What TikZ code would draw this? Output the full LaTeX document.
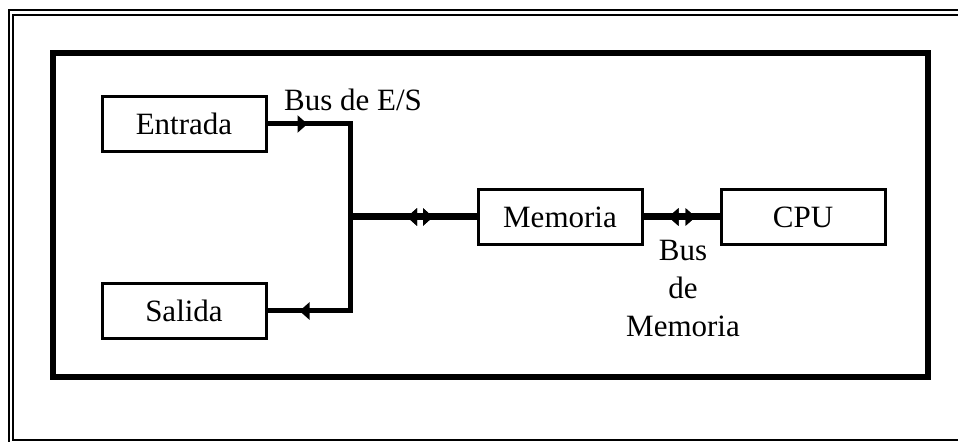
\documentclass[tikz,border=0pt]{standalone}
\usepackage{fontspec}
\setmainfont{Liberation Serif}
\usetikzlibrary{arrows.meta,decorations.markings}

\begin{document}
\begin{tikzpicture}[x=0.5pt, y=-0.5pt,
    blk/.style={draw, line width=1.5pt, minimum width=82pt, minimum height=27.5pt,
                inner sep=0pt, font=\fontsize{15.5}{18}\selectfont},
    lbl/.style={inner sep=0pt, font=\fontsize{15.5}{19}\selectfont, align=center},
    iobus/.style={line width=2.5pt},
    mainbus/.style={line width=3.5pt},
    tipfwd/.style={postaction={decorate}, decoration={markings,
                mark=at position #1 with {\arrow{Triangle[length=5pt,width=8.5pt]}}}},
    tipback/.style={postaction={decorate}, decoration={markings,
                mark=at position #1 with {\arrowreversed{Triangle[length=5pt,width=8.5pt]}}}}]

     \useasboundingbox (0,0) rectangle (958,442);

     % frame
     \begin{scope}
       \clip (0,0) rectangle (958,442);
       \draw[line width=1pt] (980,10.5) -- (9,10.5) -- (9,460);
       \draw[line width=1pt] (980,15.5) -- (13,15.5) -- (13,440) -- (980,440);
     \end{scope}
     \draw[line width=3pt] (53,53) rectangle (928,377);

     % units
     \node[blk] (entrada) at (184,124) {Entrada};
     \node[blk] (salida) at (184,311) {Salida};
     \node[blk] (memoria) at (560,217) {Memoria};
     \node[blk] (cpu) at (803,217) {CPU};

     \coordinate (jn) at (350,217);

     % buses
     \draw[iobus, tipfwd=20pt] (entrada.east) -| (jn);
     \draw[iobus, tipfwd=-16pt] (jn) |- (salida.east);
     \draw[mainbus, tipback=28.5pt, tipfwd=41.5pt] (jn) -- (memoria.west);
     \draw[mainbus, tipback=12.5pt, tipfwd=26pt] (memoria.east) -- (cpu.west);

     % labels
     \node[lbl] (iotag) at (353,100) {Bus de E/S};
     \node[lbl] (memtag) at (683,289) {Bus\\de\\Memoria};

\end{tikzpicture}
\end{document}
